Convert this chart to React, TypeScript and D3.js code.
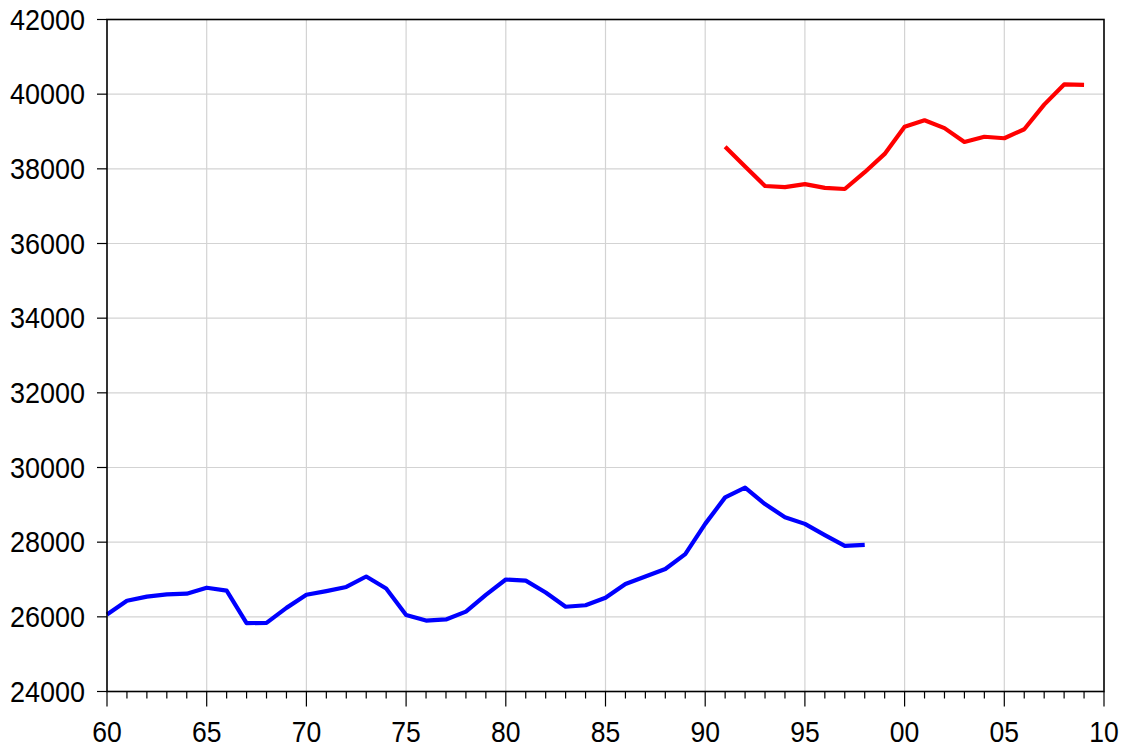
import React, { useEffect, useRef } from "react";
import * as d3 from "d3";

const blueYears = d3.range(1960, 1999);
const blueValues = [
  26060, 26430, 26540, 26600, 26620, 26780, 26700, 25830, 25840, 26240,
  26590, 26690, 26800, 27080, 26760, 26050, 25900, 25930, 26140, 26590,
  27000, 26970, 26650, 26270, 26310, 26510, 26880, 27080, 27280, 27680,
  28490, 29200, 29460, 29020, 28670, 28490, 28190, 27900, 27930,
];
const redYears = d3.range(1991, 2010);
const redValues = [
  38590, 38060, 37540, 37510, 37590, 37490, 37460, 37910, 38400, 39130,
  39300, 39090, 38720, 38860, 38820, 39060, 39720, 40260, 40250,
];
const yTicks = [24000, 26000, 28000, 30000, 32000, 34000, 36000, 38000, 40000, 42000];
const xMajor = [1960, 1965, 1970, 1975, 1980, 1985, 1990, 1995, 2000, 2005, 2010];
const xMinor = d3.range(1960, 2011);
const xLabel = (y: number) => String(y % 100).padStart(2, "0");

const W = 1125, H = 749;
const L = 107, R = 1104, T = 19.5, B = 691.5;

export default function App() {
  const ref = useRef<SVGSVGElement>(null);
  useEffect(() => {
    const svg = d3.select(ref.current!);
    svg.selectAll("*").remove();
    const x = d3.scaleLinear().domain([1960, 2010]).range([L, R]);
    const y = d3.scaleLinear().domain([24000, 42000]).range([B, T]);
    const font = "'Liberation Sans', Arial, sans-serif";

    // grid
    const g = svg.append("g");
    g.selectAll("line.vg").data(xMajor.slice(1, -1)).join("line")
      .attr("x1", d => x(d)).attr("x2", d => x(d)).attr("y1", T).attr("y2", B)
      .attr("stroke", "#d3d3d3").attr("stroke-width", 1.2);
    g.selectAll("line.hg").data(yTicks.slice(1, -1)).join("line")
      .attr("y1", d => y(d)).attr("y2", d => y(d)).attr("x1", L).attr("x2", R)
      .attr("stroke", "#d3d3d3").attr("stroke-width", 1.2);

    const line = d3.line<[number, number]>().x(d => x(d[0])).y(d => y(d[1]));
    svg.append("path").datum(blueYears.map((yr, i) => [yr, blueValues[i]] as [number, number]))
      .attr("d", line).attr("fill", "none").attr("stroke", "#0000ff").attr("stroke-width", 4.2)
      .attr("stroke-linejoin", "round");
    svg.append("path").datum(redYears.map((yr, i) => [yr, redValues[i]] as [number, number]))
      .attr("d", line).attr("fill", "none").attr("stroke", "#ff0000").attr("stroke-width", 4.2)
      .attr("stroke-linejoin", "round");

    // frame
    svg.append("rect").attr("x", L).attr("y", T).attr("width", R - L).attr("height", B - T)
      .attr("fill", "none").attr("stroke", "#000").attr("stroke-width", 1.6);

    // y ticks
    svg.selectAll("line.yt").data(yTicks).join("line")
      .attr("x1", L - 10).attr("x2", L).attr("y1", d => y(d)).attr("y2", d => y(d))
      .attr("stroke", "#000").attr("stroke-width", 1.2);
    svg.selectAll("text.yl").data(yTicks).join("text")
      .attr("x", 85).attr("y", d => y(d) + 10.3).attr("text-anchor", "end")
      .attr("font-family", font).attr("font-size", 29).attr("fill", "#000")
      .attr("textLength", 75).attr("lengthAdjust", "spacingAndGlyphs")
      .text(d => String(d));

    // x ticks
    svg.selectAll("line.xt").data(xMinor).join("line")
      .attr("x1", d => x(d)).attr("x2", d => x(d)).attr("y1", B)
      .attr("y2", d => B + (d % 5 === 0 ? 15 : 7))
      .attr("stroke", "#000").attr("stroke-width", 1.2);
    svg.selectAll("text.xl").data(xMajor).join("text")
      .attr("x", d => x(d)).attr("y", 741.5).attr("text-anchor", "middle")
      .attr("font-family", font).attr("font-size", 29).attr("fill", "#000")
      .attr("textLength", 29.5).attr("lengthAdjust", "spacingAndGlyphs")
      .text(d => xLabel(d));
  }, []);
  return (
    <svg ref={ref} width={W} height={H}
      style={{ position: "absolute", left: 0, top: 0, background: "#fff" }} />
  );
}
